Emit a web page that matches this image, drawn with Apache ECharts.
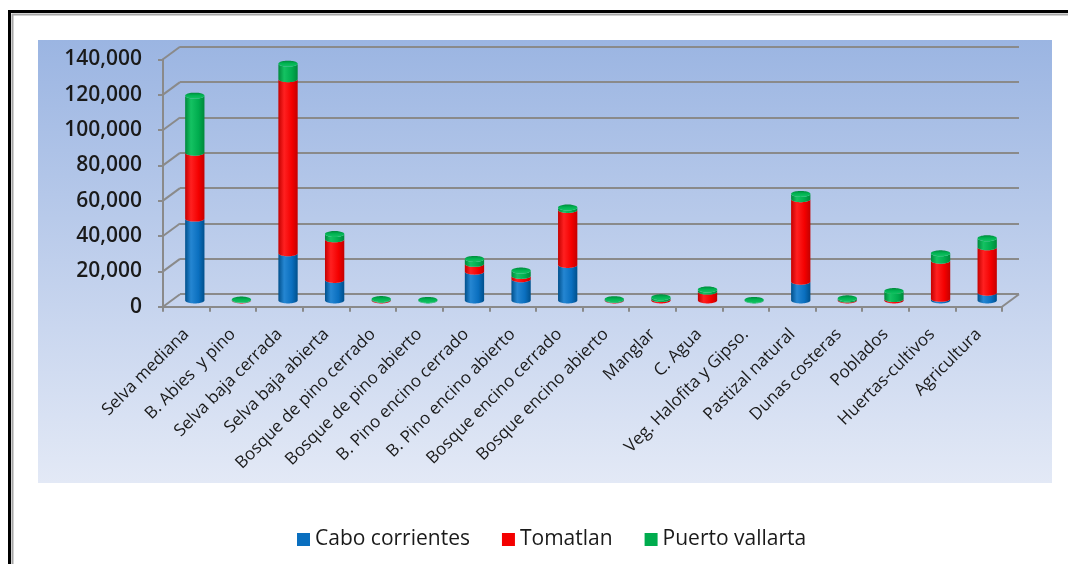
<!DOCTYPE html>
<html>
<head>
<meta charset="utf-8">
<title>Superficie por tipo de vegetación</title>
<script src="https://cdn.jsdelivr.net/npm/echarts@6/dist/echarts.min.js"></script>
<style>
  html, body { margin: 0; padding: 0; background: #ffffff; }
  #chart { width: 1068px; height: 564px; }
</style>
</head>
<body>
<div id="chart"></div>
<script>
// Land-cover classes and area per municipality
const categories = [
  'Selva mediana', 'B. Abies  y pino', 'Selva baja cerrada', 'Selva baja abierta',
  'Bosque de pino cerrado', 'Bosque de pino abierto', 'B. Pino encino cerrado',
  'B. Pino encino abierto', 'Bosque encino cerrado', 'Bosque encino abierto',
  'Manglar', 'C. Agua', 'Veg. Halofita y Gipso.', 'Pastizal natural',
  'Dunas costeras', 'Poblados', 'Huertas-cultivos', 'Agricultura'
];
const caboCorrientes = [46300, 0, 26700, 11600, 0, 0, 16300, 12000, 20100, 0, 0, 0, 0, 10600, 0, 0, 900, 4400];
const tomatlan       = [37300, 200, 98500, 23000, 400, 0, 4400, 1900, 31100, 300, 800, 5000, 0, 46700, 500, 800, 21600, 25700];
const puertoVallarta = [32300, 300, 8800, 3000, 400, 300, 2800, 3000, 1400, 400, 1000, 1200, 300, 3000, 700, 4500, 4200, 5100];
const yTicks = [0, 20000, 40000, 60000, 80000, 100000, 120000, 140000];

const seriesNames = ['Cabo corrientes', 'Tomatlan', 'Puerto vallarta'];
const seriesValues = [caboCorrientes, tomatlan, puertoVallarta];
const palette = [
  { base: '#0a6fbf', dark: '#00508c', light: '#2586d2', cap: '#1a7acb' },
  { base: '#f40000', dark: '#c40000', light: '#ff2020', cap: '#ff1010' },
  { base: '#00ac4e', dark: '#00893b', light: '#14c262', cap: '#00b352' }
];

const FONT = '"Open Sans", "Noto Sans", "DejaVu Sans", sans-serif';
const DEPTH_X = 17, DEPTH_Y = -12.5;   // oblique offset of the back wall
const PLOT_W = 839, PLOT_H = 247.4;
const FRONT = { left: 163, top: 59.3 };

// stacked segments: [category, base, top, isTopSegment]
function buildSegments(k) {
  const out = [];
  for (let i = 0; i < categories.length; i++) {
    let base = 0;
    for (let j = 0; j < k; j++) base += seriesValues[j][i];
    const top = base + seriesValues[k][i];
    let last = -1;
    for (let j = 0; j < seriesValues.length; j++) if (seriesValues[j][i] > 0) last = j;
    out.push([i, base, top, last === k ? 1 : 0]);
  }
  return out;
}

function arcPoints(cx, cy, rx, ry, a0, a1, n) {
  const pts = [];
  for (let s = 0; s <= n; s++) {
    const a = a0 + (a1 - a0) * s / n;
    pts.push([cx + rx * Math.cos(a), cy + ry * Math.sin(a)]);
  }
  return pts;
}

function cylinderRenderer(k) {
  const c = palette[k];
  return function (params, api) {
    const i = api.value(0), b = api.value(1), t = api.value(2), isTop = api.value(3);
    const pb = api.coord([i, b]);
    const pt = api.coord([i, t]);
    const bw = api.size([1, 0])[0];
    const rx = bw * 0.207, ry = rx * 0.31;
    const x = pb[0];
    const children = [];
    if (t > b) {
      // side of the cylinder between the front arcs of the two ellipses
      const upper = arcPoints(x, pt[1], rx, ry, Math.PI, 0, 24);
      const lower = arcPoints(x, pb[1], rx, ry, 0, Math.PI, 24);
      children.push({
        type: 'polygon',
        shape: { points: upper.concat(lower) },
        style: {
          fill: new echarts.graphic.LinearGradient(0, 0, 1, 0, [
            { offset: 0, color: c.dark },
            { offset: 0.3, color: c.light },
            { offset: 0.7, color: c.base },
            { offset: 1, color: c.dark }
          ]),
          stroke: null
        }
      });
    }
    if (isTop) {
      children.push({
        type: 'polygon',
        shape: { points: arcPoints(x, pt[1], rx, ry, 0, Math.PI * 2, 48) },
        style: {
          fill: new echarts.graphic.LinearGradient(0, 0, 0, 1, [
            { offset: 0, color: c.dark },
            { offset: 0.45, color: c.cap },
            { offset: 1, color: c.light }
          ]),
          stroke: null
        }
      });
    }
    return { type: 'group', children: children };
  };
}

// diagonal edges joining the front axis to the back wall
function wallEdges(params, api) {
  const v = api.value(0);
  const p = api.coord([0, v]);
  const bw = api.size([1, 0])[0];
  const x0 = p[0] - bw / 2;
  const lineStyle = { stroke: '#8a8a8a', lineWidth: 2 };
  const children = [{
    type: 'line',
    shape: { x1: x0, y1: p[1], x2: x0 + DEPTH_X, y2: p[1] + DEPTH_Y },
    style: lineStyle
  }];
  if (v === 0) {
    const x1 = x0 + bw * categories.length;
    children.push({
      type: 'line',
      shape: { x1: x1, y1: p[1], x2: x1 + DEPTH_X, y2: p[1] + DEPTH_Y },
      style: lineStyle
    });
  }
  return { type: 'group', children: children };
}

const gridLine = { color: '#8a8a8a', width: 2 };

function yAxisOf(gridIndex, extra) {
  return Object.assign({
    type: 'value', gridIndex: gridIndex, min: 0, max: 140000, interval: 20000,
    axisLine: { show: false }, axisTick: { show: false },
    axisLabel: { show: false }, splitLine: { show: false }
  }, extra);
}
function xAxisOf(gridIndex, extra) {
  return Object.assign({
    type: 'category', gridIndex: gridIndex, data: categories, boundaryGap: true,
    axisLine: { show: false }, axisTick: { show: false },
    axisLabel: { show: false }, splitLine: { show: false }
  }, extra);
}

const chart = echarts.init(document.getElementById('chart'), null, { renderer: 'canvas' });

const series = seriesNames.map((name, k) => ({
  name: name,
  type: 'custom',
  xAxisIndex: 2, yAxisIndex: 2,
  itemStyle: { color: palette[k].base },
  renderItem: cylinderRenderer(k),
  encode: { x: 0, y: [1, 2] },
  data: buildSegments(k),
  z: 3 + k
}));
series.push({
  name: 'walls',
  type: 'custom',
  xAxisIndex: 0, yAxisIndex: 0,
  renderItem: wallEdges,
  encode: { y: 0 },
  data: yTicks.map(v => [v]),
  silent: true,
  tooltip: { show: false },
  z: 1
});

chart.setOption({
  animation: false,
  textStyle: { fontFamily: FONT },
  graphic: [
    {
      type: 'rect', z: -10, silent: true,
      shape: { x: 38, y: 40, width: 1014, height: 443 },
      style: {
        fill: new echarts.graphic.LinearGradient(0, 0, 0, 1, [
          { offset: 0, color: '#9bb5e2' },
          { offset: 1, color: '#e3e9f6' }
        ])
      }
    },
    {
      type: 'rect', z: -10, silent: true,
      shape: { x: 9.5, y: 11.5, width: 1200, height: 800 },
      style: { fill: null, stroke: '#000000', lineWidth: 3 }
    },
    {
      type: 'rect', z: -10, silent: true,
      shape: { x: 12.5, y: 14.5, width: 1200, height: 800 },
      style: { fill: null, stroke: '#a6a6a6', lineWidth: 2 }
    }
  ],
  legend: {
    data: seriesNames,
    top: 524,
    left: 292,
    icon: 'rect',
    itemWidth: 13,
    itemHeight: 13,
    itemGap: 32,
    textStyle: { fontFamily: FONT, fontSize: 21, color: '#1a1a1a' },
    selectedMode: false
  },
  grid: [
    { left: FRONT.left, top: FRONT.top, width: PLOT_W, height: PLOT_H },
    { left: FRONT.left + DEPTH_X, top: FRONT.top + DEPTH_Y, width: PLOT_W, height: PLOT_H },
    { left: FRONT.left + DEPTH_X / 2, top: FRONT.top + DEPTH_Y / 2, width: PLOT_W, height: PLOT_H }
  ],
  xAxis: [
    xAxisOf(0, {
      axisLine: { show: true, lineStyle: gridLine },
      axisTick: { show: true, length: 5, lineStyle: gridLine, interval: 0 },
      axisLabel: {
        show: true, interval: 0, rotate: 45, margin: 25,
        fontFamily: FONT, fontSize: 17, color: '#1a1a1a'
      }
    }),
    xAxisOf(1),
    xAxisOf(2)
  ],
  yAxis: [
    yAxisOf(0, {
      axisLine: { show: true, lineStyle: gridLine },
      axisTick: { show: true, length: 5, lineStyle: gridLine },
      axisLabel: {
        show: true, margin: 21, fontFamily: FONT, fontSize: 21, fontWeight: 600,
        color: '#1a1a1a',
        formatter: v => v.toLocaleString('en-US')
      }
    }),
    yAxisOf(1, { splitLine: { show: true, lineStyle: gridLine } }),
    yAxisOf(2)
  ],
  series: series
});
</script>
</body>
</html>
